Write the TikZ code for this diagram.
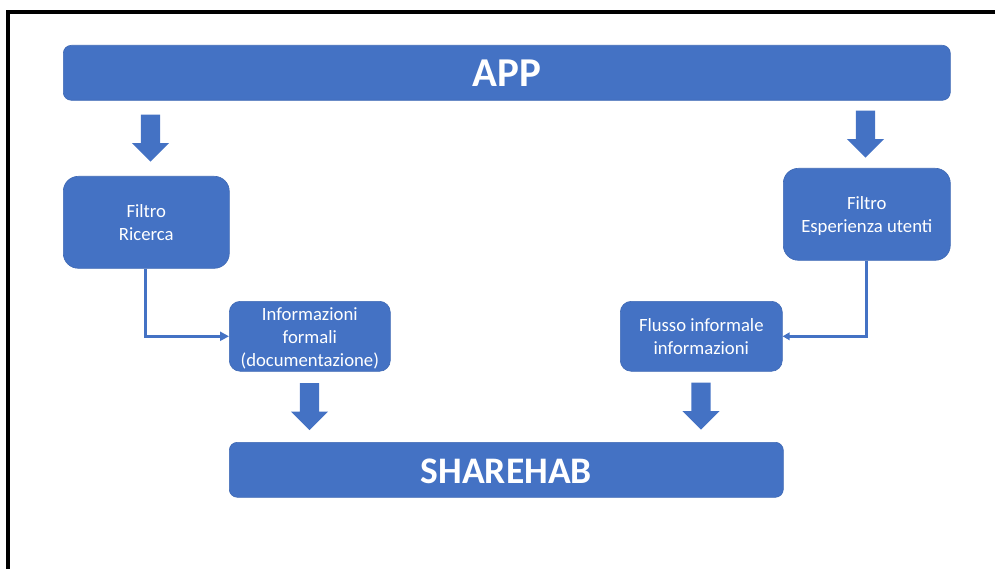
\documentclass[tikz,border=0pt]{standalone}
\usepackage{fontspec}
\setmainfont{Carlito}
\usetikzlibrary{shapes.arrows,arrows.meta}
\definecolor{blu}{HTML}{4472C4}
\newcommand\lowertext{\rule{0pt}{17pt}}
\tikzset{
  x=1pt,y=-1pt,
  box/.style={draw=blu!92!black,line width=0.6pt,fill=blu,text=white,inner sep=0pt,align=center,font=\fontsize{18.7}{23}\selectfont,anchor=north west},
  wide/.style={box,rounded corners=8pt},
  blockarrow/.style={single arrow,fill=blu,draw=none,shape border rotate=270,anchor=tip,inner sep=9.5pt,minimum width=37pt,minimum height=47pt,single arrow head extend=9pt,single arrow tip angle=90},
  link/.style={draw=blu,line width=3pt,-{Triangle[length=9pt,width=9pt]}},
  linksmall/.style={link,-{Triangle[length=7pt,width=7.5pt]}}
}
\begin{document}
\begin{tikzpicture}
\useasboundingbox (0,0) rectangle (995,569);
\draw[line width=3.2pt,black] (8,569) -- (8,12) -- (995,12);
\node[wide,font=\fontsize{41}{45}\selectfont\bfseries,minimum width=887pt,minimum height=55pt] (app) at (63,45) {APP};
\node[wide,font=\fontsize{37.5}{42}\selectfont\bfseries,minimum width=554pt,minimum height=55pt] (share) at (229,442) {\rule{0pt}{27pt}SHAREHAB};
\node[box,rounded corners=15pt,minimum width=166pt,minimum height=92pt] (fr) at (63,176) {Filtro\\Ricerca};
\node[box,rounded corners=15pt,minimum width=167pt,minimum height=92pt] (fe) at (783,168) {\lowertext Filtro\\Esperienza utenti};
\node[box,rounded corners=11pt,minimum width=161pt,minimum height=70pt] (inf) at (229,301) {\lowertext Informazioni\\formali\\(documentazione)};
\node[box,rounded corners=11pt,minimum width=162pt,minimum height=70pt] (flu) at (620,301) {Flusso informale\\informazioni};
\node[blockarrow] (a1) at (150.5,162) {};
\node[blockarrow] (a2) at (865.5,158) {};
\node[blockarrow] (a3) at (309.5,430.5) {};
\node[blockarrow] (a4) at (701,430) {};
\draw[link] (fr.south -| 145,0) |- (inf.west);
\draw[linksmall] (fe.south -| 866,0) |- (flu.east);
\end{tikzpicture}
\end{document}
